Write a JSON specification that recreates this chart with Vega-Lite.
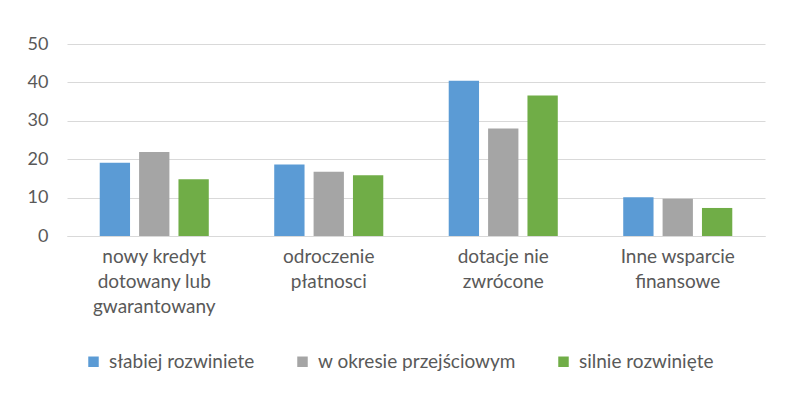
{
  "$schema": "https://vega.github.io/schema/vega-lite/v6.json",
  "width": 698,
  "height": 192,
  "autosize": {"type": "none"},
  "padding": {"left": 67, "top": 44, "right": 35, "bottom": 162},
  "background": "white",
  "config": {
    "view": {"stroke": null},
    "font": "Lato",
    "axis": {"labelFont": "Lato", "labelColor": "#595959", "labelFontSize": 19}
  },
  "data": {
    "values": [
      {"cat": "nowy kredyt|dotowany lub|gwarantowany", "grp": "słabiej rozwiniete", "v": 19.1},
      {"cat": "nowy kredyt|dotowany lub|gwarantowany", "grp": "w okresie przejściowym", "v": 21.9},
      {"cat": "nowy kredyt|dotowany lub|gwarantowany", "grp": "silnie rozwinięte", "v": 14.8},
      {"cat": "odroczenie|płatnosci", "grp": "słabiej rozwiniete", "v": 18.6},
      {"cat": "odroczenie|płatnosci", "grp": "w okresie przejściowym", "v": 16.7},
      {"cat": "odroczenie|płatnosci", "grp": "silnie rozwinięte", "v": 15.8},
      {"cat": "dotacje nie|zwrócone", "grp": "słabiej rozwiniete", "v": 40.4},
      {"cat": "dotacje nie|zwrócone", "grp": "w okresie przejściowym", "v": 28.0},
      {"cat": "dotacje nie|zwrócone", "grp": "silnie rozwinięte", "v": 36.6},
      {"cat": "Inne wsparcie|finansowe", "grp": "słabiej rozwiniete", "v": 10.1},
      {"cat": "Inne wsparcie|finansowe", "grp": "w okresie przejściowym", "v": 9.7},
      {"cat": "Inne wsparcie|finansowe", "grp": "silnie rozwinięte", "v": 7.3}
    ]
  },
  "mark": {"type": "bar"},
  "encoding": {
    "x": {
      "field": "cat", "type": "nominal", "sort": null,
      "scale": {"paddingInner": 0.375, "paddingOuter": 0.1875},
      "axis": {
        "title": null, "labelAngle": 0, "ticks": false, "tickSize": 0,
        "labelPadding": 11, "labelBaseline": "top", "labelLineHeight": 25,
        "labelExpr": "split(datum.label, '|')",
        "domainColor": "#d9d9d9", "domainWidth": 1
      }
    },
    "xOffset": {
      "field": "grp", "type": "nominal", "sort": ["słabiej rozwiniete", "w okresie przejściowym", "silnie rozwinięte"],
      "scale": {"paddingInner": 0.23, "paddingOuter": 0}
    },
    "y": {
      "field": "v", "type": "quantitative",
      "scale": {"domain": [0, 50]},
      "axis": {
        "title": null, "values": [0, 10, 20, 30, 40, 50], "ticks": false, "tickSize": 0,
        "domain": false, "labelPadding": 19, "labelFontSize": 18, "gridColor": "#d9d9d9", "gridWidth": 1.2
      }
    },
    "color": {
      "field": "grp", "type": "nominal",
      "sort": ["słabiej rozwiniete", "w okresie przejściowym", "silnie rozwinięte"],
      "scale": {"range": ["#5B9BD5", "#A5A5A5", "#70AD47"]},
      "legend": {
        "title": null, "orient": "none", "direction": "horizontal",
        "legendX": 17, "legendY": 308,
        "symbolType": "square", "symbolSize": 110, "symbolStrokeWidth": 0,
        "labelFont": "Lato", "labelFontSize": 19, "labelColor": "#595959", "labelLimit": 400,
        "columnPadding": 38, "labelOffset": 6
      }
    }
  }
}
